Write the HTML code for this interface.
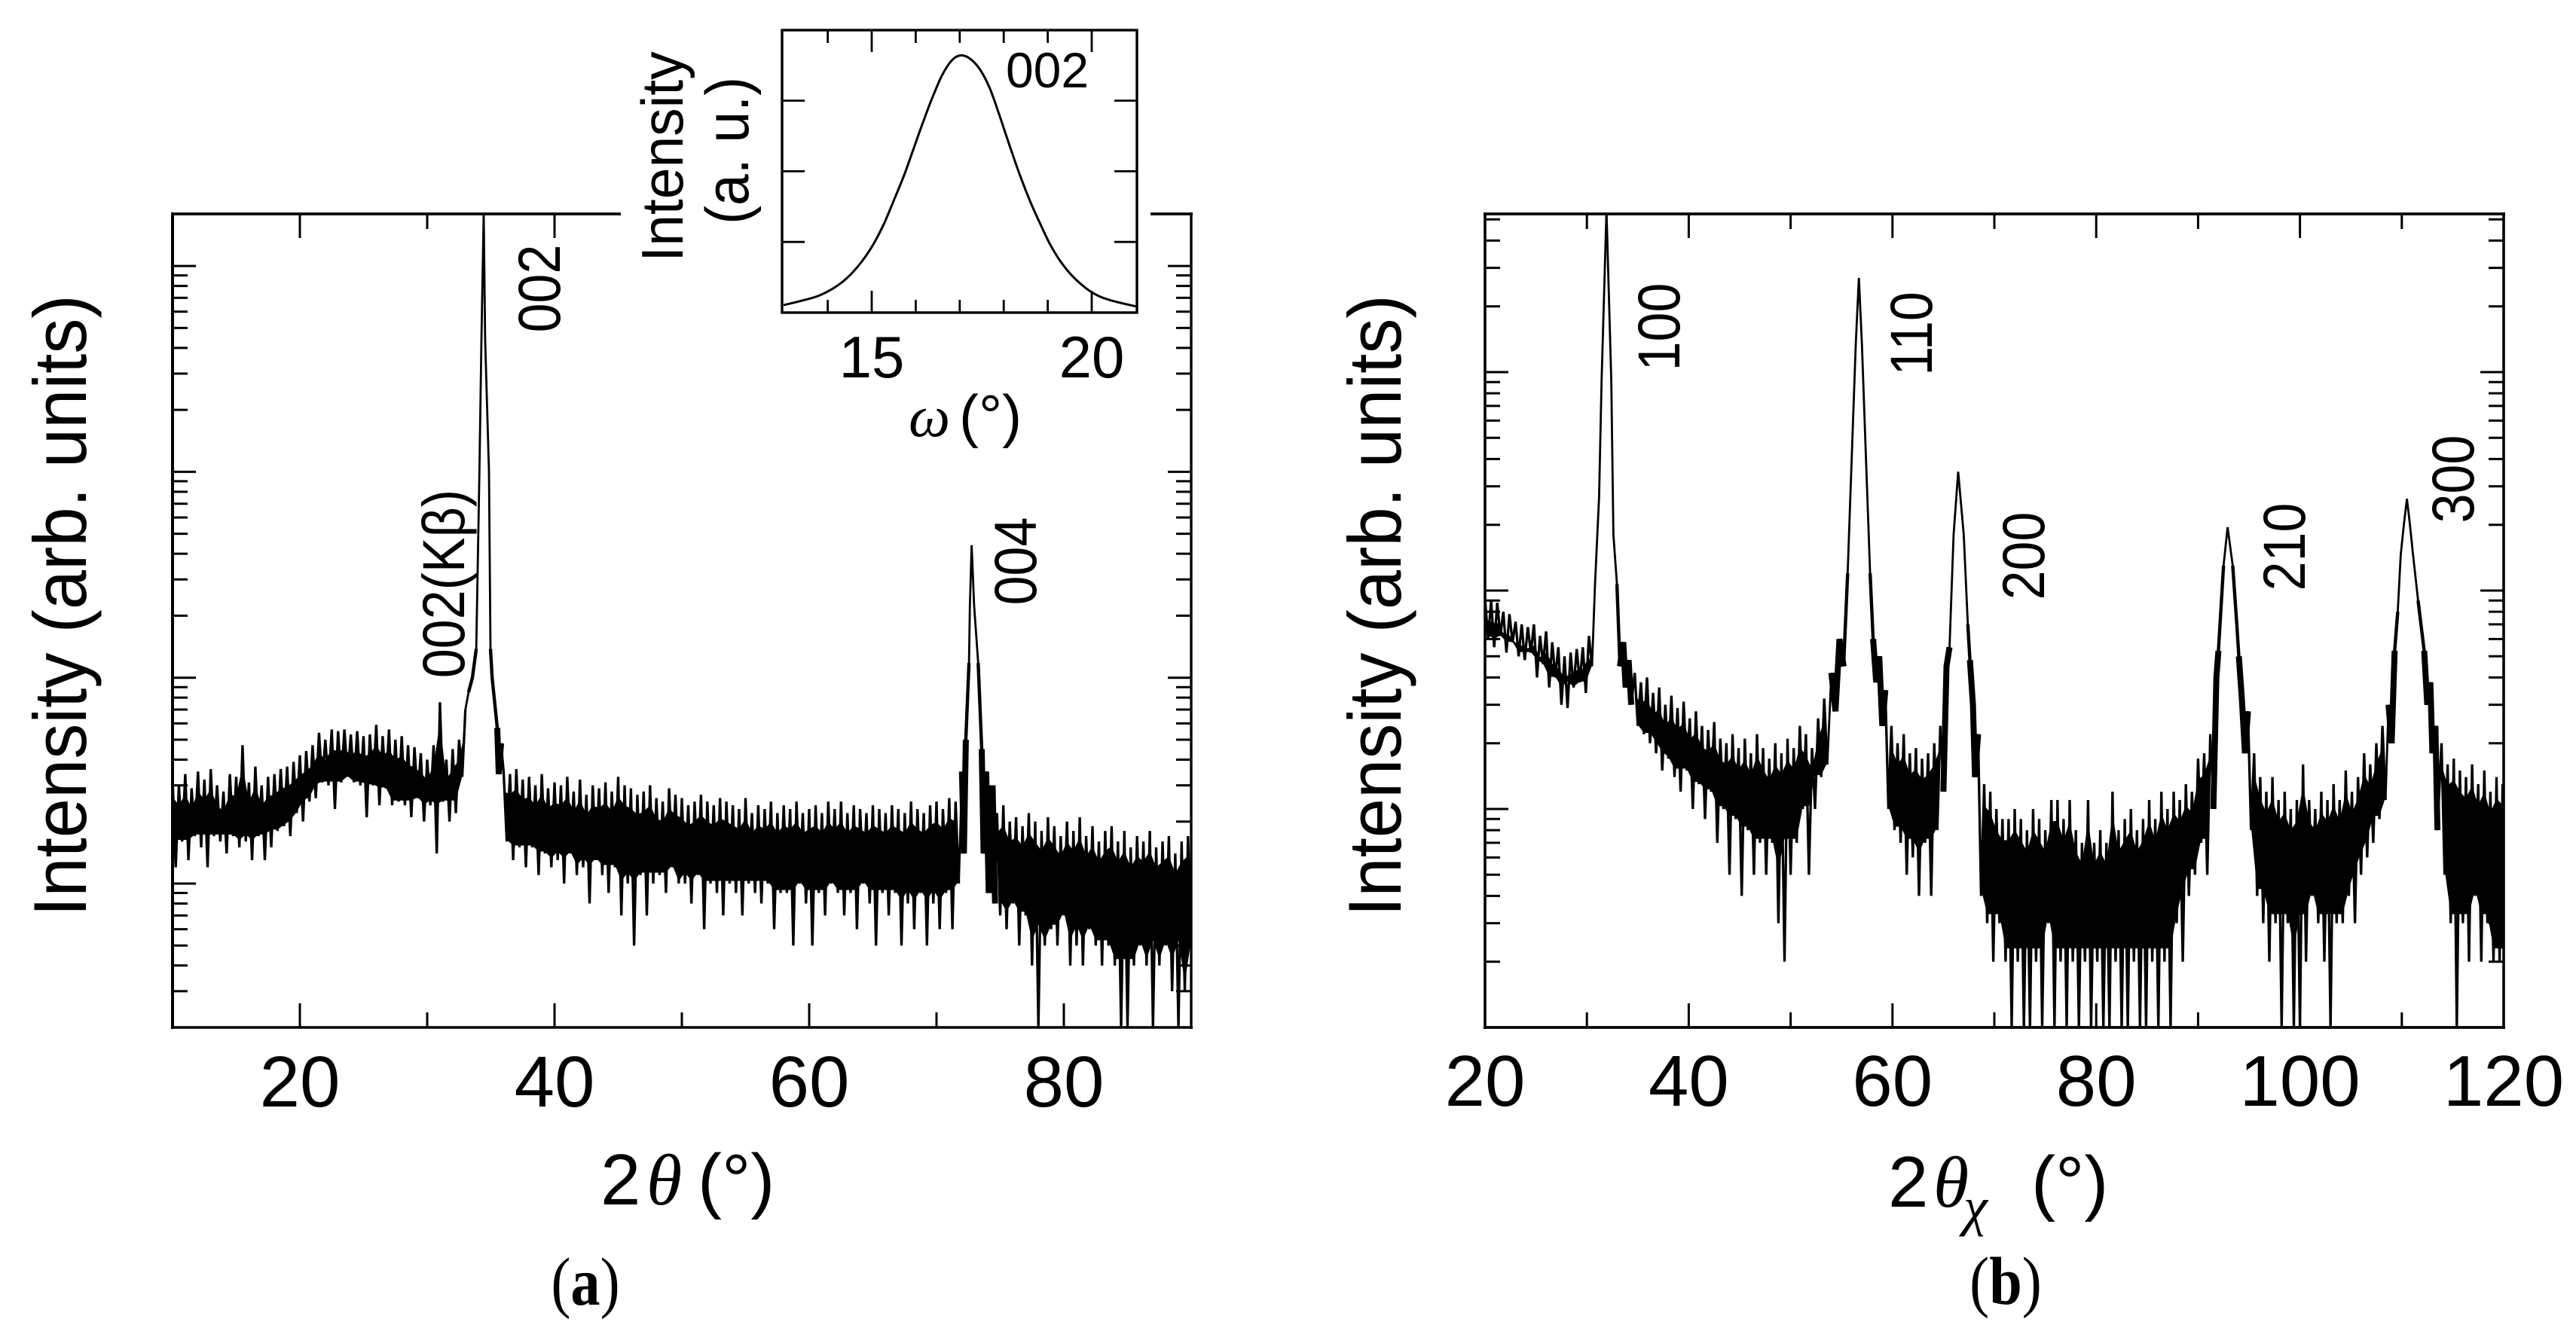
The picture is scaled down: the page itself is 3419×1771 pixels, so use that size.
<!DOCTYPE html>
<html lang="en">
<head>
<meta charset="utf-8">
<title>XRD patterns</title>
<style>
html,body{margin:0;padding:0;background:#fff;}
svg{display:block;}
text{font-family:"Liberation Sans",sans-serif;fill:#000;}
.greek{font-family:"Liberation Serif",serif;font-style:italic;}
.cap{font-family:"Liberation Serif",serif;}
</style>
</head>
<body>
<svg id="fig" xmlns="http://www.w3.org/2000/svg" width="3419" height="1771" viewBox="0 0 3419 1771">
  <defs>
    <clipPath id="clipA"><rect x="229" y="284" width="1352" height="1080"/></clipPath>
    <clipPath id="clipB"><rect x="1971" y="284" width="1352" height="1080"/></clipPath>
  </defs>
  <rect width="3419" height="1771" fill="#fff"/>
  <g id="panelA"></g>
  <g id="panelB"></g>
  <g id="inset"></g>

  <text transform="translate(114,804) rotate(-90) scale(1,1.06)" text-anchor="middle" font-size="94">Intensity (arb. units)</text>
  <text transform="translate(1859,804) rotate(-90) scale(1,1.06)" text-anchor="middle" font-size="94">Intensity (arb. units)</text>

  <text y="1599" font-size="96"><tspan x="797">2</tspan><tspan class="greek" x="858">θ</tspan><tspan x="926">(°)</tspan></text>
  <text y="1602" font-size="96"><tspan x="2506">2</tspan><tspan class="greek" x="2566">θ</tspan><tspan x="2696">(°)</tspan></text>
  <text class="greek" x="2606" y="1626" font-size="72">χ</text>

  <text transform="translate(743,383) rotate(-90) scale(1,1.13)" text-anchor="middle" font-size="70">002</text>
  <text transform="translate(616,775) rotate(-90) scale(1,1.13)" text-anchor="middle" font-size="70">002(Kβ)</text>
  <text transform="translate(1375,745) rotate(-90) scale(1,1.13)" text-anchor="middle" font-size="70">004</text>
  <text transform="translate(2229,434) rotate(-90) scale(1,1.13)" text-anchor="middle" font-size="70">100</text>
  <text transform="translate(2564,443) rotate(-90) scale(1,1.13)" text-anchor="middle" font-size="70">110</text>
  <text transform="translate(2713,738) rotate(-90) scale(1,1.13)" text-anchor="middle" font-size="70">200</text>
  <text transform="translate(3059,726) rotate(-90) scale(1,1.13)" text-anchor="middle" font-size="70">210</text>
  <text transform="translate(3283,636) rotate(-90) scale(1,1.13)" text-anchor="middle" font-size="70">300</text>

  <text transform="translate(906,208) rotate(-90) scale(1,1.04)" text-anchor="middle" font-size="75">Intensity</text>
  <text transform="translate(993,200) rotate(-90) scale(1,1.08)" text-anchor="middle" font-size="75">(a. u.)</text>
  <text x="1390" y="116" text-anchor="middle" font-size="66">002</text>
  <text y="579" font-size="78"><tspan class="greek" x="1206">ω</tspan><tspan x="1273">(°)</tspan></text>

  <text class="cap" transform="translate(777,1732) scale(.87,1)" text-anchor="middle" font-size="90">(<tspan font-weight="bold">a</tspan>)</text>
  <text class="cap" transform="translate(2662,1731) scale(.87,1)" text-anchor="middle" font-size="90">(<tspan font-weight="bold">b</tspan>)</text>
</svg>

<script>
// ---------- Panel (a) data: 2-theta (deg) vs counts ----------
const xTicksA = [20, 30, 40, 50, 60, 70, 80];
const xTickLabelsA = [20, 40, 60, 80];
const topTicksA = [20, 30, 40];
const decadesA = [1, 10, 100, 1000, 10000];

const bgA1Start = 10;
const bgA1Step = 0.25;
const bgA1Counts = [
  33,12,30,16,34,13,29,17,35,15,32,12,36,17,30,16,28,14,34,17,33,15,47,16,31,13,37,17,
  30,13,33,15,34,18,36,19,37,17,39,22,42,20,44,25,47,26,54,31,50,30,56,23,55,31,56,33,53,31,
  55,30,52,21,53,30,59,24,52,29,56,24,50,25,52,24,47,21,46,26,43,20,40,24,47,14,76,25,40,20,
  45,22,50,33,70
];
const peak002Angles = [33.25,33.55,33.85,34.1,34.26,34.44,34.55,34.85,34.97,35.1,35.5,35.62,35.8];
const peak002Counts = [85,100,138,1000,4400,18000,4400,1000,138,100,57,34,48];

const bgA2Start = 36;
const bgA2Step = 0.25;
const bgA2Counts = [
  35,16,34,13,36,15,32,12,
  33,15,30,11,34,14,29,12,
  31,13,30,10,33,14,28,11,
  32,12,27,8,30,13,29,11,
  31,9,28,12,33,7,30,10,
  29,5,27,11,28,7,30,10,
  26,11,25,9,29,12,27,10,
  26,10,24,8,25,11,27,6,
  25,10,24,9,26,7,25,10,
  24,9,23,7,26,10,22,9,
  24,8,23,10,25,6,22,9,
  24,9,23,5,25,10,22,8,
  23,5,24,9,22,7,25,10,
  23,9,25,7,22,9,24,6,
  23,10,22,8,24,5,23,9,
  22,7,24,9,23,5,22,8,
  25,6,23,9,22,5,24,8,
  25,6,23,9,26,6,25,10
];
const peak004Angles = [72,72.15,72.3,72.55,72.62,72.76,72.95,73.27,73.55,73.7,73.9,74.1,74.4,74.6];
const peak004Counts = [35,14,50,118,224,440,224,118,45,14,35,9,30,8];

const bgA3Start = 74.75;
const bgA3Step = 0.25;
const bgA3Counts = [
  22,7,24,6,20,8,21,5,19,7,22,4,20,2,18,5,21,6,19,5,17,7,20,4,18,5,21,4,17,6,
  19,5,16,4,18,5,19,4,16,2,18,2,15,4,17,5,16,4,18,2,15,4,16,5,17,3,14,2,16,3,17,5
];

// ---------- Panel (b) data: 2-theta-chi (deg) vs counts ----------
const xTicksB = [20,30,40,50,60,70,80,90,100,110,120];
const xTickLabelsB = [20,40,60,80,100,120];
const decadesB = [1,10,100,1000];

const bgB1Start = 20;
const bgB1Step = 0.3;
const bgB1Counts = [92,60,90,55,88,62,80,52,78,58,72,50,70,48,68,52,70,40,62,46,65,36,58,40,55,30,50,29,52,36,54,38,55,34,62,45];
const peak100Angles = [30.8,31.2,31.44,31.92,32.4,32.6,32.95,33.25,33.57,33.8,34.1,34.35];
const peak100Counts = [107,269,910,5500,910,180,107,45,58,36,48,30];

const bgB2Start = 34.7;
const bgB2Step = 0.3;
const bgB2Counts = [
  42,24,38,22,40,20,34,18,36,15,30,17,33,14,29,12,31,15,26,10,28,13,24,9,23,12,25,7,21,10,20,5,
  22,9,19,4,21,8,18,5,22,7,19,5,17,7,20,3,18,2,21,5,19,7,24,10,22,5,19,10,26,14,32,16
];
const peak110Angles = [54,54.4,54.8,55.2,55.6,56,56.4,56.7,57,57.4,57.8,58.1,58.4,58.7,59,59.3];
const peak110Counts = [42,28,60,45,120,405,1350,2700,1350,405,120,60,38,50,24,35];

const bgB3Start = 59.6;
const bgB3Step = 0.3;
const bgB3Counts = [10,24,8,20,7,22,5,18,6,19,4,17,7,18,4,20,8,24];
const peak200Angles = [65,65.3,65.6,66,66.45,67,67.4,67.6,67.9,68.1,68.4];
const peak200Counts = [12,45,55,180,350,180,70,48,30,14,22];

const bgB4Start = 68.7;
const bgB4Step = 0.3;
const bgB4Counts = [
  4,13,3,12,2,10,3,9,2,9,1,10,2,9,1,8,1,10,2,9,1,8,3,11,1,11,2,9,1,11,2,8,1,7,2,11,1,7,2,8,
  1,7,1,12,2,8,1,9,1,10,2,8,1,9,1,11,2,9,1,12,2,10,1,12,3,11,2,13,4,12,5,17,7,18,5,22
];
const peak210Angles = [91.5,91.8,92,92.5,92.9,93.4,93.8,94,94.3,94.6,94.9];
const peak210Counts = [10,40,53,130,195,130,70,50,32,18,28];

const bgB5Start = 95.2;
const bgB5Step = 0.3;
const bgB5Counts = [
  8,18,4,14,3,12,2,14,3,11,1,12,3,10,1,11,1,16,2,11,4,10,3,12,2,11,1,13,3,11,3,15,4,12,3,14,5,18,6,16,7,20,9,24,11
];
const peak300Angles = [108.7,109,109.3,109.6,109.9,110.2,110.5,110.8,111.1,111.6,112.2,112.5,112.8,113,113.3,113.5];
const peak300Counts = [30,20,53,80,146,200,263,200,146,90,53,30,38,18,24,8];

const bgB6Start = 113.9;
const bgB6Step = 0.3;
const bgB6Counts = [20,5,16,3,17,1,15,3,14,2,16,4,13,2,15,3,12,2,14,2,13,1];

// ---------- Inset data: omega (deg) vs intensity (a.u.) ----------
const xTicksI = [14,15,16,17,18,19,20];
const xLongTicksI = [15,20];
const xTickLabelsI = [15,20];
const yTicksI = [1,2,3];
const omegaValues = [13,13.4,13.8,14.2,14.49,14.77,15.03,15.28,15.51,15.74,15.94,16.14,16.37,16.6,16.82,17.01,17.22,17.45,17.68,17.91,18.13,18.36,18.59,18.82,19.05,19.33,19.62,20.01,20.41,21];
const rockingValues = [0.107,0.167,0.24,0.373,0.52,0.72,0.96,1.26,1.6,1.95,2.3,2.65,3.03,3.36,3.57,3.64,3.6,3.45,3.18,2.78,2.37,1.96,1.59,1.27,0.97,0.69,0.48,0.284,0.178,0.089];

// ---------- Axis functions ----------
const xA = v => 229 + (v - 10) * 1352 / 80;
const yA = c => 1173 - 273.3 * (Math.log10(c) - 1);
const xB = v => 1971 + (v - 20) * 1352 / 100;
const yB = c => 1364 - 290 * Math.log10(c);
const xI = v => 1157 + (v - 15) * 58.4;
const yI = v => 415 - v * 93.8;

const NS = 'http://www.w3.org/2000/svg';
const BAND_WIDTH = 3.3;
const PEAK_WIDTH = 2.8;

function addLine(parent, x1, y1, x2, y2, w, name) {
  const el = document.createElementNS(NS, 'line');
  el.setAttribute('x1', x1);
  el.setAttribute('y1', y1);
  el.setAttribute('x2', x2);
  el.setAttribute('y2', y2);
  el.setAttribute('stroke', '#000');
  el.setAttribute('stroke-width', w);
  
  
  parent.appendChild(el);
  return el;
}
function addLabel(parent, x, y, size, str, name) {
  const el = document.createElementNS(NS, 'text');
  el.setAttribute('x', x);
  el.setAttribute('y', y);
  el.setAttribute('font-size', size);
  el.setAttribute('text-anchor', 'middle');
  
  
  el.textContent = str;
  parent.appendChild(el);
}
function addTrace(parent, pts, w, name, clip) {
  const el = document.createElementNS(NS, 'path');
  el.setAttribute('d', 'M' + pts.map(p => p[0].toFixed(1) + ' ' + p[1].toFixed(1)).join('L'));
  el.setAttribute('fill', 'none');
  el.setAttribute('stroke', '#000');
  el.setAttribute('stroke-width', w);
  el.setAttribute('stroke-linejoin', 'bevel');
  if (clip) el.setAttribute('clip-path', clip);
  
  
  parent.appendChild(el);
}
function addSmoothTrace(parent, pts, w, name) {
  let d = 'M' + pts[0][0].toFixed(1) + ' ' + pts[0][1].toFixed(1);
  for (let i = 0; i < pts.length - 1; i++) {
    const p0 = pts[Math.max(i - 1, 0)], p1 = pts[i], p2 = pts[i + 1], p3 = pts[Math.min(i + 2, pts.length - 1)];
    d += 'C' + (p1[0] + (p2[0] - p0[0]) / 6).toFixed(1) + ' ' + (p1[1] + (p2[1] - p0[1]) / 6).toFixed(1) + ' ' +
         (p2[0] - (p3[0] - p1[0]) / 6).toFixed(1) + ' ' + (p2[1] - (p3[1] - p1[1]) / 6).toFixed(1) + ' ' +
         p2[0].toFixed(1) + ' ' + p2[1].toFixed(1);
  }
  const el = document.createElementNS(NS, 'path');
  el.setAttribute('d', d);
  el.setAttribute('fill', 'none');
  el.setAttribute('stroke', '#000');
  el.setAttribute('stroke-width', w);
  
  
  parent.appendChild(el);
}
// Solid core of a noisy band: the highs pulled in slightly, and the typical low from the counts.
function addBandCore(parent, start, step, counts, fx, fy, name, clip) {
  const highs = [], lows = [];
  counts.forEach((c, i) => {
    const a = start + i * step;
    const prev = i > 0 ? counts[i - 1] : counts[i + 1];
    const next = i < counts.length - 1 ? counts[i + 1] : counts[i - 1];
    if (c >= prev && c >= next) highs.push([a, c]);
    else lows.push([a, c]);
  });
  const pick = (list, i, win, rank) => {
    const w = [];
    for (let j = Math.max(0, i - win); j <= Math.min(list.length - 1, i + win); j++) w.push(list[j][1]);
    w.sort((p, q) => p - q);
    return w[Math.min(w.length - 1, Math.round(rank * (w.length - 1)))];
  };
  const top = highs.map(h => [fx(h[0]), fy(h[1] * 0.8)]);
  const bottom = lows.map((l, i) => [fx(l[0]), fy(Math.max(l[1], pick(lows, i, 2, 0.75)) + 0.3)]).reverse();
  const el = document.createElementNS(NS, 'polygon');
  el.setAttribute('points', top.concat(bottom).map(p => p[0].toFixed(1) + ',' + p[1].toFixed(1)).join(' '));
  el.setAttribute('fill', '#000');
  if (clip) el.setAttribute('clip-path', clip);
  
  
  parent.appendChild(el);
}
// The low part of each peak is noisy in the source, so it reads as a line that thickens toward the base.
function addPeakFlanks(parent, pc, maxCount, w, fx, fy, clip) {
  let run = [];
  const flush = () => {
    if (run.length > 1) addTrace(parent, run, w, pc.name + '-flank', clip);
    run = [];
  };
  pc.counts.forEach((c, i) => {
    if (c <= maxCount) run.push([fx(pc.angles[i]), fy(c)]);
    else flush();
  });
  flush();
}
// each trace piece starts at the last point of the previous one, so the curve stays connected
function drawSeries(parent, pieces, fx, fy, clip) {
  let last = null;
  pieces.forEach(pc => {
    const pts = last ? [last] : [];
    pc.counts.forEach((c, i) => {
      const a = pc.angles ? pc.angles[i] : pc.start + i * pc.step;
      pts.push([fx(a), fy(c)]);
    });
    last = pts[pts.length - 1];
    if (!pc.angles) {
      addBandCore(parent, pc.start, pc.step, pc.counts, fx, fy, pc.name + '-core', clip);
    } else {
      addPeakFlanks(parent, pc, 140, 4.4, fx, fy, clip);
      addPeakFlanks(parent, pc, 60, 8, fx, fy, clip);
    }
    addTrace(parent, pts, pc.angles ? PEAK_WIDTH : BAND_WIDTH, pc.name, clip);
  });
}
function drawLogTicks(parent, decades, fy, left, right, top, bottom, prefix) {
  decades.forEach(d => {
    [1,2,3,4,5,6,7,8,9].forEach(m => {
      const y = fy(d * m);
      if (y < top + 1 || y > bottom - 1) return;
      const len = m === 1 ? 31 : 20;
      addLine(parent, left, y, left + len, y, 3, prefix + '-y-tick-left');
      addLine(parent, right, y, right - len, y, 3, prefix + '-y-tick-right');
    });
  });
}

// ---------- Panel (a) ----------
const gA = document.getElementById('panelA');
drawSeries(gA, [
  {start: bgA1Start, step: bgA1Step, counts: bgA1Counts, name: 'trace-a-background-low-angle'},
  {angles: peak002Angles, counts: peak002Counts, name: 'trace-a-peak-002'},
  {start: bgA2Start, step: bgA2Step, counts: bgA2Counts, name: 'trace-a-background-mid-angle'},
  {angles: peak004Angles, counts: peak004Counts, name: 'trace-a-peak-004'},
  {start: bgA3Start, step: bgA3Step, counts: bgA3Counts, name: 'trace-a-background-high-angle'}
], xA, yA, 'url(#clipA)');
addLine(gA, 229, 282, 229, 1366, 4, 'panel-a-left-axis');
addLine(gA, 1581, 282, 1581, 1366, 3.4, 'panel-a-right-axis');
addLine(gA, 227, 1364, 1583, 1364, 3.6, 'panel-a-bottom-axis');
addLine(gA, 227, 284, 824, 284, 3.8, 'panel-a-top-axis-left');
addLine(gA, 1527, 284, 1583, 284, 3.8, 'panel-a-top-axis-right');
xTicksA.forEach(v => {
  const len = v % 20 === 0 ? 32 : 20;
  addLine(gA, xA(v), 1364, xA(v), 1364 - len, 3, 'panel-a-x-tick');
});
topTicksA.forEach(v => {
  const len = v % 20 === 0 ? 32 : 20;
  addLine(gA, xA(v), 284, xA(v), 284 + len, 3, 'panel-a-x-tick-top');
});
drawLogTicks(gA, decadesA, yA, 229, 1581, 284, 1364, 'panel-a');
xTickLabelsA.forEach(v => addLabel(gA, xA(v), 1469, 96, String(v), 'panel-a-x-tick-label'));

// ---------- Panel (b) ----------
const gB = document.getElementById('panelB');
drawSeries(gB, [
  {start: bgB1Start, step: bgB1Step, counts: bgB1Counts, name: 'trace-b-background-1'},
  {angles: peak100Angles, counts: peak100Counts, name: 'trace-b-peak-100'},
  {start: bgB2Start, step: bgB2Step, counts: bgB2Counts, name: 'trace-b-background-2'},
  {angles: peak110Angles, counts: peak110Counts, name: 'trace-b-peak-110'},
  {start: bgB3Start, step: bgB3Step, counts: bgB3Counts, name: 'trace-b-background-3'},
  {angles: peak200Angles, counts: peak200Counts, name: 'trace-b-peak-200'},
  {start: bgB4Start, step: bgB4Step, counts: bgB4Counts, name: 'trace-b-background-4'},
  {angles: peak210Angles, counts: peak210Counts, name: 'trace-b-peak-210'},
  {start: bgB5Start, step: bgB5Step, counts: bgB5Counts, name: 'trace-b-background-5'},
  {angles: peak300Angles, counts: peak300Counts, name: 'trace-b-peak-300'},
  {start: bgB6Start, step: bgB6Step, counts: bgB6Counts, name: 'trace-b-background-6'}
], xB, yB, 'url(#clipB)');
addLine(gB, 1971, 282, 1971, 1366, 3.6, 'panel-b-left-axis');
addLine(gB, 3323, 282, 3323, 1366, 3.6, 'panel-b-right-axis');
addLine(gB, 1969, 1364, 3325, 1364, 3.8, 'panel-b-bottom-axis');
addLine(gB, 1969, 284, 3325, 284, 3.8, 'panel-b-top-axis');
xTicksB.forEach(v => {
  const len = v % 20 === 0 ? 32 : 20;
  addLine(gB, xB(v), 1364, xB(v), 1364 - len, 3, 'panel-b-x-tick-bottom');
  addLine(gB, xB(v), 284, xB(v), 284 + len, 3, 'panel-b-x-tick-top');
});
drawLogTicks(gB, decadesB, yB, 1971, 3323, 284, 1364, 'panel-b');
xTickLabelsB.forEach(v => addLabel(gB, xB(v), 1468, 96, String(v), 'panel-b-x-tick-label'));

// ---------- Inset ----------
const gI = document.getElementById('inset');
const insetBg = document.createElementNS(NS, 'rect');
insetBg.setAttribute('x', 1038);
insetBg.setAttribute('y', 40);
insetBg.setAttribute('width', 471);
insetBg.setAttribute('height', 375);
insetBg.setAttribute('fill', '#fff');
insetBg.setAttribute('stroke', '#000');
insetBg.setAttribute('stroke-width', 3.4);


gI.appendChild(insetBg);
xTicksI.forEach(v => {
  const len = xLongTicksI.includes(v) ? 29 : 17;
  addLine(gI, xI(v), 415, xI(v), 415 - len, 2.8, 'inset-x-tick-bottom');
  addLine(gI, xI(v), 40, xI(v), 40 + len, 2.8, 'inset-x-tick-top');
});
yTicksI.forEach(v => {
  addLine(gI, 1038, yI(v), 1068, yI(v), 2.8, 'inset-y-tick-left');
  addLine(gI, 1509, yI(v), 1479, yI(v), 2.8, 'inset-y-tick-right');
});
addSmoothTrace(gI, omegaValues.map((w, i) => [xI(w), yI(rockingValues[i])]), 3, 'inset-rocking-curve');
xTickLabelsI.forEach(v => addLabel(gI, xI(v), 501, 78, String(v), 'inset-x-tick-label'));
</script>
</body>
</html>
